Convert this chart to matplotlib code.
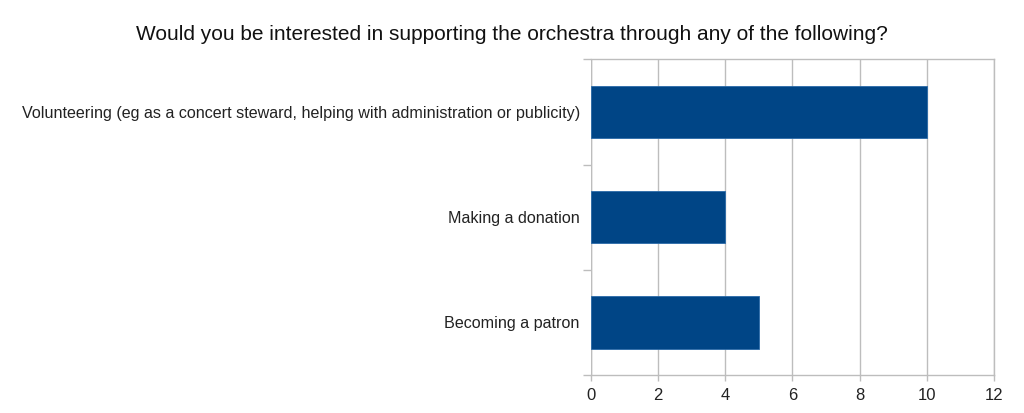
import matplotlib.pyplot as plt

plt.rcParams["font.family"] = ["Liberation Sans", "DejaVu Sans"]

categories = [
    "Volunteering (eg as a concert steward, helping with administration or publicity)",
    "Making a donation",
    "Becoming a patron",
]
counts = [10, 4, 5]
x_ticks = [0, 2, 4, 6, 8, 10, 12]

bar_color = "#004586"
grid_color = "#bdbdbd"

fig = plt.figure(figsize=(10.24, 4.13), dpi=100)
ax = fig.add_axes([0.5771, 0.092, 0.3936, 0.7644])

ypos = list(range(len(categories)))
ax.barh(ypos, counts, height=0.5, color=bar_color, edgecolor="#2a6aa8", linewidth=0.6, zorder=3)
ax.set_ylim(len(categories) - 0.5, -0.5)
ax.set_xlim(0, 12)
ax.set_xticks(x_ticks)
ax.set_yticks(ypos)
ax.set_yticklabels(categories)
ax.set_yticks([-0.5, 0.5, 1.5, 2.5], minor=True)

ax.grid(axis="x", color=grid_color, linewidth=1, zorder=0)
for s in ax.spines.values():
    s.set_color(grid_color)
    s.set_linewidth(1)
ax.spines["left"].set_visible(False)
ax.axvline(0, color=grid_color, linewidth=1, zorder=1)

ax.tick_params(axis="y", which="major", length=0, pad=8, labelsize=11.65, labelcolor="#222222")
ax.tick_params(axis="y", which="minor", length=6, color=grid_color, width=1)
ax.tick_params(axis="x", length=4, color=grid_color, width=1, labelsize=12, labelcolor="#222222", pad=5)

fig.suptitle("Would you be interested in supporting the orchestra through any of the following?",
             x=0.5, y=0.94, fontsize=15, color="#111111")

fig.savefig("out.png", dpi=100)
